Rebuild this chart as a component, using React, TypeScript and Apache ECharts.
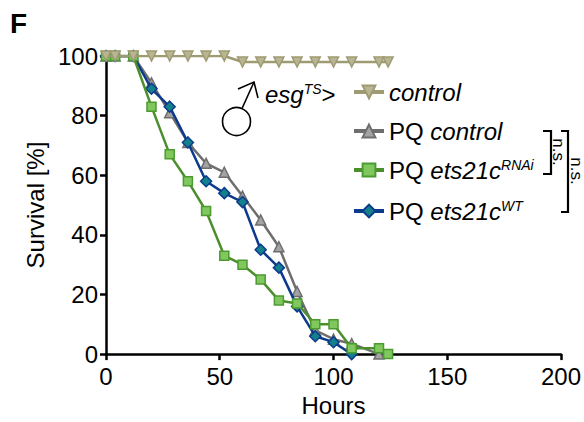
import React, { useEffect, useRef } from "react";
import * as echarts from "echarts";

const hoursControl = [0, 4, 12, 20, 28, 36, 44, 52, 60, 68, 76, 84, 92, 100, 108, 120, 124];
const survControl = [100, 100, 100, 100, 100, 100, 100, 100, 98, 98, 98, 98, 98, 98, 98, 98, 98];

const hoursPQ = [0, 4, 12, 20, 28, 36, 44, 52, 60, 68, 76, 84, 92, 100, 108, 120];
const survPQ = [100, 100, 100, 91, 81, 71, 64, 61, 53, 45, 36, 21, 8, 5, 3.5, 0];

const hoursRNAi = [0, 4, 12, 20, 28, 36, 44, 52, 60, 68, 76, 84, 92, 100, 108, 120, 124];
const survRNAi = [100, 100, 100, 83, 67, 58, 48, 33, 30, 25, 18, 17, 10, 10, 2, 2, 0];

const hoursWT = [0, 4, 12, 20, 28, 36, 44, 52, 60, 68, 76, 84, 92, 100, 108];
const survWT = [100, 100, 100, 89, 83, 71, 58, 54, 51, 35, 29, 16, 6, 4, 0];

const xTicks = { min: 0, max: 200, interval: 50 };
const yTicks = { min: 0, max: 100, interval: 20 };

const FONT = "'Liberation Sans', Arial, Helvetica, sans-serif";

const pair = (xs: number[], ys: number[]) => xs.map((x, i) => [x, ys[i]]);

export default function App() {
  const ref = useRef<HTMLDivElement>(null);
  useEffect(() => {
    if (!ref.current) return;
    const chart = echarts.init(ref.current, undefined, { renderer: "svg" });
    const mk = (
      name: string,
      data: number[][],
      line: string,
      fill: string,
      border: string,
      symbol: string,
      size: number,
      z: number
    ) => ({
      name,
      type: "line",
      data,
      z,
      symbol,
      symbolSize: size,
      showAllSymbol: true,
      lineStyle: { color: line, width: 2.5 },
      itemStyle: { color: fill, borderColor: border, borderWidth: 1.5 },
    });
    chart.setOption({
      animation: false,
      textStyle: { fontFamily: FONT },
      grid: { left: 106, right: 20, top: 56, bottom: 60, containLabel: false },
      xAxis: {
        type: "value",
        min: xTicks.min,
        max: xTicks.max,
        interval: xTicks.interval,
        name: "Hours",
        nameLocation: "middle",
        nameGap: 34,
        nameTextStyle: { fontSize: 24, color: "#000", fontFamily: FONT },
        axisLine: { show: true, lineStyle: { color: "#000", width: 2.5 } },
        axisTick: { show: true, length: 6, lineStyle: { color: "#000", width: 2.5 } },
        axisLabel: { fontSize: 24, color: "#000", margin: 10, fontFamily: FONT },
        splitLine: { show: false },
      },
      yAxis: {
        type: "value",
        min: yTicks.min,
        max: yTicks.max,
        interval: yTicks.interval,
        name: "Survival [%]",
        nameLocation: "middle",
        nameGap: 48,
        nameTextStyle: { fontSize: 24, color: "#000", fontFamily: FONT },
        axisLine: { show: true, lineStyle: { color: "#000", width: 2.5 } },
        axisTick: { show: true, length: 6, lineStyle: { color: "#000", width: 2.5 } },
        axisLabel: { fontSize: 24, color: "#000", margin: 8, fontFamily: FONT },
        splitLine: { show: false },
      },
      legend: {
        orient: "vertical",
        left: 347,
        top: 75,
        itemWidth: 30,
        itemHeight: 16,
        itemGap: 15,
        selectedMode: false,
        lineStyle: { width: 4 },
        data: ["control", "PQ control", "PQ ets21cRNAi", "PQ ets21cWT"],
        formatter: (n: string) => {
          if (n === "control") return "{i|control}";
          if (n === "PQ control") return "{n|PQ }{i|control}";
          if (n === "PQ ets21cRNAi") return "{n|PQ }{i|ets21c}{s|RNAi}";
          return "{n|PQ }{i|ets21c}{s|WT}";
        },
        textStyle: {
          fontFamily: FONT,
          color: "#000",
          rich: {
            n: { fontSize: 24, lineHeight: 24, fontFamily: FONT, color: "#000" },
            i: { fontSize: 24, lineHeight: 24, fontStyle: "italic", fontFamily: FONT, color: "#000" },
            s: { fontSize: 14, lineHeight: 24, fontStyle: "italic", fontFamily: FONT, color: "#000", verticalAlign: "top", padding: [0, 0, 12, 0] },
          },
        },
      },
      series: [
        mk("PQ control", pair(hoursPQ, survPQ), "#6e6e6e", "#a3a3a3", "#6e6e6e", "triangle", 10, 2),
        mk("PQ ets21cWT", pair(hoursWT, survWT), "#0c3b8c", "#13808c", "#0c3b8c", "diamond", 11, 3),
        mk("PQ ets21cRNAi", pair(hoursRNAi, survRNAi), "#4b8f2c", "#80c75e", "#4c9b30", "rect", 9, 4),
        {
          ...mk("control", pair(hoursControl, survControl), "#9e9a72", "#b9b592", "#9e9a72", "triangle", 10, 5),
          symbolRotate: 180,
        },
      ],
      graphic: [
        {
          type: "text",
          left: 10,
          top: 9,
          style: { text: "F", fontSize: 28, fontWeight: "bold", fontFamily: FONT, fill: "#000" },
        },
        {
          type: "circle",
          shape: { cx: 236.5, cy: 121.5, r: 14 },
          style: { fill: "none", stroke: "#000", lineWidth: 1.6 },
        },
        {
          type: "line",
          shape: { x1: 242, y1: 108.5, x2: 254, y2: 82 },
          style: { stroke: "#000", lineWidth: 1.6 },
        },
        {
          type: "polyline",
          shape: { points: [[238, 89], [254, 82], [258, 98]] },
          style: { fill: "none", stroke: "#000", lineWidth: 1.6 },
        },
        {
          type: "text",
          x: 265,
          y: 106,
          style: {
            text: "{i|esg}{s|TS}{n|>}",
            verticalAlign: "bottom",
            fontFamily: FONT,
            rich: {
              n: { fontSize: 24, lineHeight: 24, fontFamily: FONT, fill: "#000" },
              i: { fontSize: 24, lineHeight: 24, fontStyle: "italic", fontFamily: FONT, fill: "#000" },
              s: { fontSize: 14, lineHeight: 24, fontStyle: "italic", fontFamily: FONT, fill: "#000", verticalAlign: "top", padding: [0, 0, 12, 0] },
            },
          },
        },
        {
          type: "polyline",
          shape: { points: [[543, 131], [551, 131], [551, 174], [543, 174]] },
          style: { fill: "none", stroke: "#000", lineWidth: 2.2 },
        },
        {
          type: "polyline",
          shape: { points: [[561, 131], [568, 131], [568, 212], [561, 212]] },
          style: { fill: "none", stroke: "#000", lineWidth: 2.2 },
        },
        {
          type: "text",
          x: 558,
          y: 152,
          rotation: -Math.PI / 2,
          style: { text: "n.s.", fontSize: 17, fontFamily: FONT, fill: "#000", align: "center", verticalAlign: "middle" },
        },
        {
          type: "text",
          x: 576,
          y: 171,
          rotation: -Math.PI / 2,
          style: { text: "n.s.", fontSize: 17, fontFamily: FONT, fill: "#000", align: "center", verticalAlign: "middle" },
        },
      ],
    });
    return () => chart.dispose();
  }, []);
  return <div ref={ref} style={{ width: 584, height: 422, position: "absolute", left: 0, top: 0 }} />;
}
